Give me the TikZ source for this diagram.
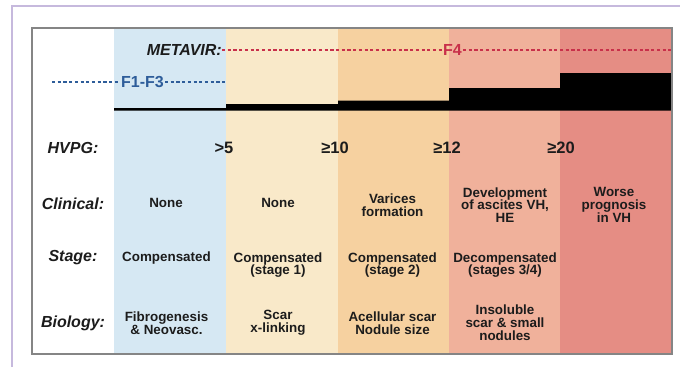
\documentclass[tikz,border=0pt]{standalone}
\usepackage{fontspec}
\setmainfont{Liberation Sans}
\definecolor{cblue}{HTML}{D6E8F3}
\definecolor{cyellow}{HTML}{F9E9C9}
\definecolor{corange}{HTML}{F6D1A0}
\definecolor{cpink}{HTML}{F0B19B}
\definecolor{cred}{HTML}{E58D84}
\definecolor{ctext}{HTML}{1C1C1C}
\definecolor{fblue}{HTML}{2E5D9A}
\definecolor{fred}{HTML}{C8304A}
\definecolor{frame}{HTML}{858585}
\definecolor{lav}{HTML}{C6B9DD}
\tikzset{
  lab/.style={font=\fontsize{16}{18}\selectfont\bfseries\itshape, text=ctext, inner sep=0pt},
  val/.style={font=\fontsize{13.4}{12.8}\selectfont\bfseries, text=ctext, align=center, inner sep=0pt},
  hv/.style={font=\fontsize{16.5}{18}\selectfont\bfseries, text=ctext, inner sep=0pt},
  ftag/.style={font=\fontsize{16}{18}\selectfont\bfseries, inner sep=1pt},
  dashline/.style={line width=1.2pt, dash pattern=on 3.2pt off 2.5pt},
}
\begin{document}
\begin{tikzpicture}[x=1pt,y=-1pt]
\useasboundingbox (0,0) rectangle (680,367);
% outer frame lines
\draw[lav, line width=1.3pt] (12,367) -- (12,6) -- (680,6);
% column fills
\fill[white] (32,28) rectangle (114,354);
\fill[cblue] (114,28) rectangle (226,354);
\fill[cyellow] (226,28) rectangle (338,354);
\fill[corange] (338,28) rectangle (449,354);
\fill[cpink] (449,28) rectangle (560,354);
\fill[cred] (560,28) rectangle (672,354);
% black step bar
\fill[black] (114,108) -- (226,108) -- (226,104) -- (338,104) -- (338,100.5)
  -- (449,100.5) -- (449,88) -- (560,88) -- (560,73) -- (672,73)
  -- (672,110.5) -- (114,110.5) -- cycle;
% inner border
\draw[frame, line width=1.3pt] (32,28) rectangle (672,354);
% METAVIR row
\node[lab, anchor=east] (metavir) at (222,50) {METAVIR:};
\node[ftag, text=fred] (f4) at (452.5,50) {F4};
\coordinate (rend) at (672,50);
\draw[fred, dashline] (metavir.east) -- (f4.west);
\draw[fred, dashline] (f4.east) -- (rend);
\node[ftag, text=fblue] (f13) at (142.5,82) {F1-F3};
\coordinate (bstart) at (52,82);
\coordinate (bend) at (226,82);
\draw[fblue, dashline] (bstart) -- (f13.west);
\draw[fblue, dashline] (f13.east) -- (bend);
% row labels
\node[lab] (lhvpg) at (73,148) {HVPG:};
\node[lab] (lclin) at (73,204) {Clinical:};
\node[lab] (lstage) at (73,258) {Stage:};
\node[lab] (lbio) at (73,323) {Biology:};
% HVPG values
\node[hv] (h1) at (224,148) {>5};
\node[hv] (h2) at (335,148) {≥10};
\node[hv] (h3) at (447,148) {≥12};
\node[hv] (h4) at (561,148) {≥20};
% Clinical
\node[val] (c1) at (166,203) {None};
\node[val] (c2) at (278,203) {None};
\node[val] (c3) at (392.5,205) {Varices\\formation};
\node[val] (c4) at (505,205) {Development\\of ascites VH,\\HE};
\node[val] (c5) at (614,205) {Worse\\prognosis\\in VH};
% Stage
\node[val] (s1) at (166.5,258) {Compensated};
\node[val] (s2) at (278,265) {Compensated\\(stage 1)};
\node[val] (s3) at (392.5,265) {Compensated\\(stage 2)};
\node[val] (s4) at (505,265) {Decompensated\\(stages 3/4)};
% Biology
\node[val] (b1) at (166.5,323) {Fibrogenesis\\\& Neovasc.};
\node[val] (b2) at (278,323) {Scar\\x-linking};
\node[val] (b3) at (392.5,323) {Acellular scar\\Nodule size};
\node[val] (b4) at (505,323) {Insoluble\\scar \& small\\nodules};
\end{tikzpicture}
\end{document}
